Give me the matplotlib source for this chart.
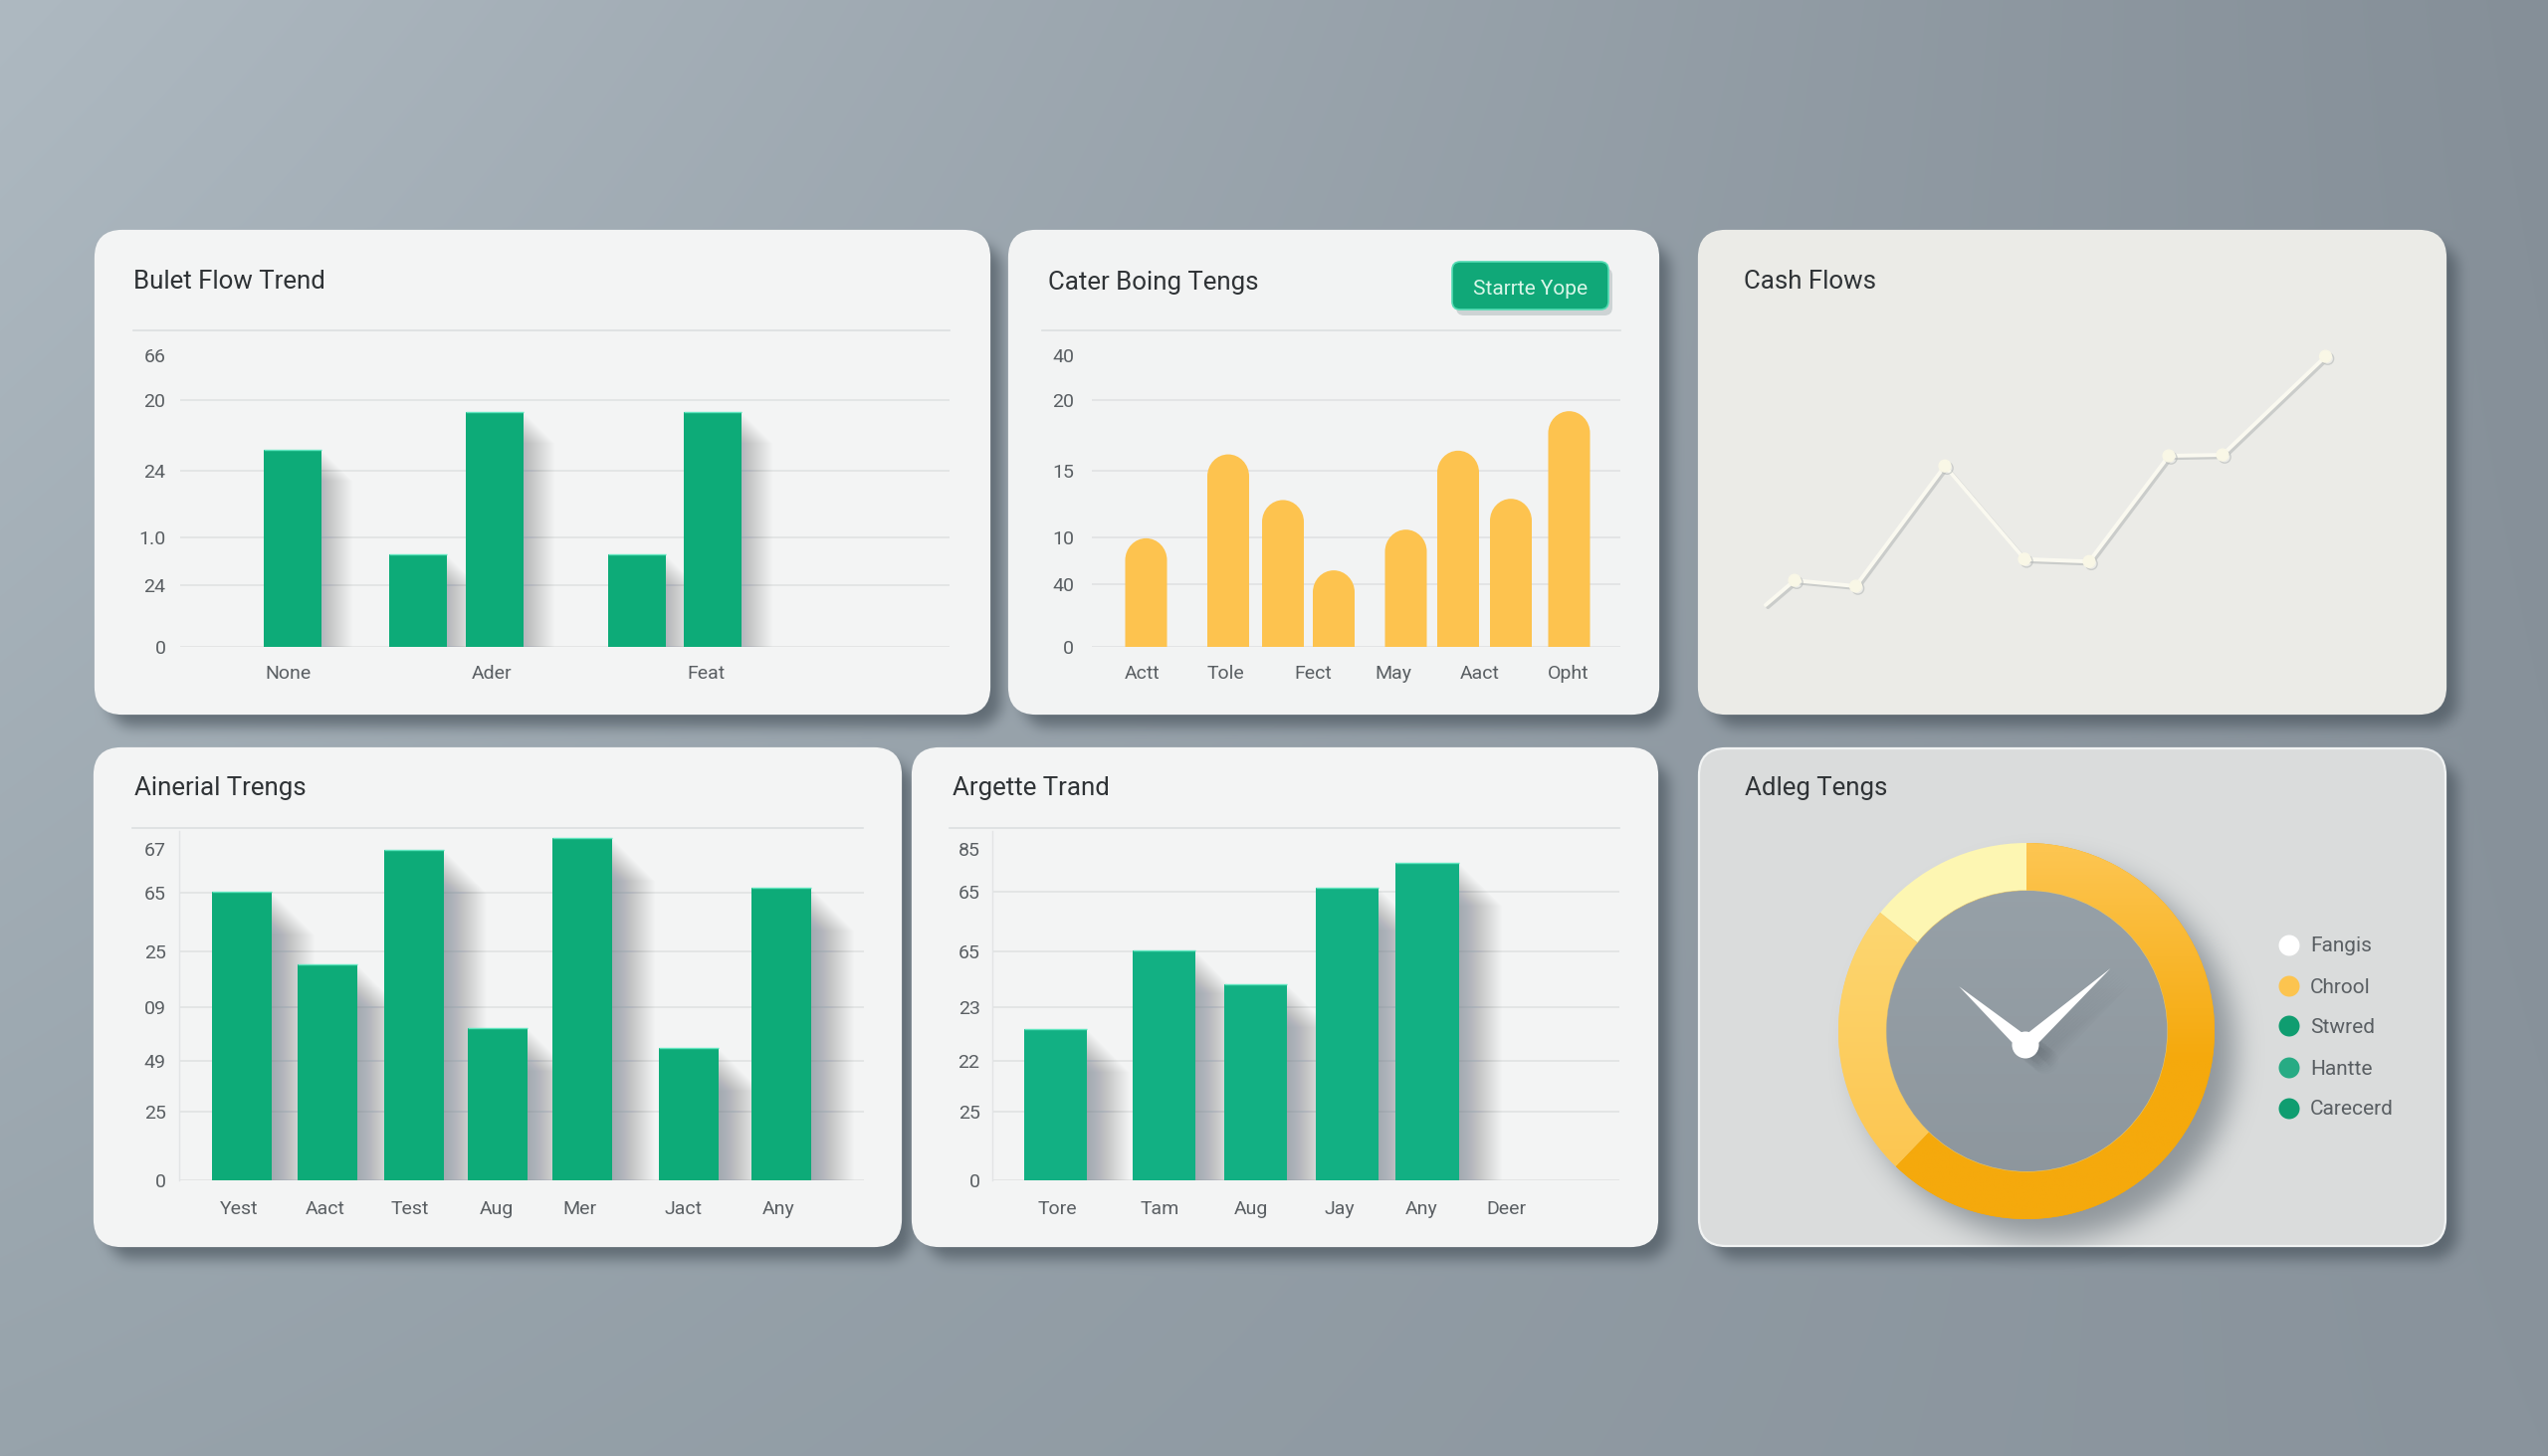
import numpy as np
import matplotlib
matplotlib.use("Agg")
import matplotlib.pyplot as plt
from matplotlib.patches import FancyBboxPatch, PathPatch, Circle, Polygon, Rectangle
from matplotlib.path import Path
from matplotlib import patheffects as pe
from matplotlib.colors import to_rgb

plt.rcParams['font.family'] = ['Roboto', 'DejaVu Sans']

W, H = 2560, 1463

# ---------- data ----------
panel1_title = "Bulet Flow Trend"
panel1_cats = ["None", "Ader", "Feat"]
panel1_values = [16.0, 7.5, 19.0, 7.5, 19.0]
panel1_ticks = [0, 5.0, 8.9, 14.3, 20, 23.6]
panel1_ticklabels = ["0", "24", "1.0", "24", "20", "66"]

panel2_title = "Cater Boing Tengs"
panel2_button = "Starrte Yope"
panel2_cats = ["Actt", "Tole", "Fect", "May", "Aact", "Opht"]
panel2_values = [8.8, 15.6, 11.9, 6.2, 9.5, 15.9, 12.0, 19.1]
panel2_ticks = [0, 5.1, 8.9, 14.3, 20, 23.6]
panel2_ticklabels = ["0", "40", "10", "15", "20", "40"]

panel3_title = "Cash Flows"
panel3_values = [22.5, 27.6, 26.4, 51.3, 32.0, 31.5, 53.4, 53.6, 74.0]

panel4_title = "Ainerial Trengs"
panel4_cats = ["Yest", "Aact", "Test", "Aug", "Mer", "Jact", "Any"]
panel4_values = [65.2, 48.8, 74.7, 34.4, 77.4, 29.9, 66.1]
panel4_ticks = [0, 15.5, 27, 39.1, 51.7, 65, 74.9]
panel4_ticklabels = ["0", "25", "49", "09", "25", "65", "67"]

panel5_title = "Argette Trand"
panel5_cats = ["Tore", "Tam", "Aug", "Jay", "Any", "Deer"]
panel5_values = [34.2, 52.0, 44.3, 66.1, 71.7]
panel5_ticks = [0, 15.5, 27, 39.1, 51.7, 65.2, 74.9]
panel5_ticklabels = ["0", "25", "22", "23", "65", "65", "85"]

panel6_title = "Adleg Tengs"
panel6_legend = ["Fangis", "Chrool", "Stwred", "Hantte", "Carecerd"]
panel6_shares = [51, 85, 224]
hand_angles = [138.6, 42.0]
hand_lengths = [89, 115]

# ---------- layout (pixels of the 2560x1463 canvas) ----------
cards = [(96, 232, 994, 717, '#f3f4f4', '#f3f4f4'),
         (1014, 232, 1666, 717, '#f2f3f3', '#f2f3f3'),
         (1707, 232, 2457, 717, '#ebebe7', '#ebebe7'),
         (95, 752, 905, 1252, '#f3f4f4', '#f3f4f4'),
         (917, 752, 1665, 1252, '#f3f4f4', '#f3f4f4'),
         (1707, 752, 2457, 1252, '#dadcdc', '#f1f3f3')]
RADIUS = 27

p1_centers = [294, 420, 497, 640, 716]; p1_width = 58
p1_label_x = [290, 494, 709]
p2_centers = [1151.5, 1234, 1289, 1340, 1412.5, 1465, 1518, 1576.5]; p2_width = 42
p2_label_x = [1148, 1231, 1319, 1400, 1487, 1576]
p3_x = [1774, 1803, 1864.5, 1954, 2034, 2099, 2179, 2233, 2336.5]
p4_centers = [242.5, 329, 415.5, 500, 584.5, 692, 785]; p4_width = 60
p4_label_x = [240, 327, 412, 499, 582, 687, 782]
p5_centers = [1060.5, 1169.5, 1261.5, 1353.5, 1434]; p5_width = 63.5
p5_label_x = [1062, 1165, 1257, 1346, 1428, 1513]

GREEN = '#0dab78'
GREEN2 = '#12b083'
AMBER = '#fdc34f'
GRID = '#e0e2e3'
TXT = '#5a5f63'
TITLE = '#2f3336'


def box_blur(a, r):
    for axis in (0, 1):
        for _ in range(3):
            pad = [(0, 0), (0, 0)]
            pad[axis] = (r + 1, r)
            c = np.cumsum(np.pad(a, pad, mode='edge'), axis=axis)
            if axis == 0:
                a = (c[2 * r + 1:, :] - c[:-2 * r - 1, :]) / (2 * r + 1)
            else:
                a = (c[:, 2 * r + 1:] - c[:, :-2 * r - 1]) / (2 * r + 1)
    return a


yy, xx = np.mgrid[0:H, 0:W].astype(float)


def rr_mask(x0, y0, x1, y1, r):
    cx, cy = (x0 + x1) / 2, (y0 + y1) / 2
    qx = np.abs(xx - cx) - ((x1 - x0) / 2 - r)
    qy = np.abs(yy - cy) - ((y1 - y0) / 2 - r)
    d = np.hypot(np.maximum(qx, 0), np.maximum(qy, 0)) + np.minimum(np.maximum(qx, qy), 0) - r
    return (d < 0).astype(float)


# background: cool grey, bilinear between four corners
TL, TR = np.array(to_rgb('#aeb9c1')), np.array(to_rgb('#858f98'))
BL, BR = np.array(to_rgb('#97a3ab')), np.array(to_rgb('#89939c'))
fx = np.clip(xx / W, 0, 1)[..., None]
fy = (yy / H)[..., None]
base = (TL * (1 - fx) + TR * fx) * (1 - fy) + (BL * (1 - fx) + BR * fx) * fy

# card shadows
sh = np.zeros((H, W))
for c in cards:
    sh = np.maximum(sh, rr_mask(c[0] + 12, c[1] + 12, c[2] + 12, c[3] + 13, RADIUS))
sh = box_blur(sh, 6)
dark = np.array(to_rgb('#48535c'))
for i in range(3):
    base[..., i] = base[..., i] * (1 - 0.68 * sh) + dark[i] * 0.68 * sh

fig = plt.figure(figsize=(W / 100, H / 100), dpi=100)
bg = fig.add_axes([0, 0, 1, 1], zorder=0)
bg.set_xlim(0, W); bg.set_ylim(H, 0); bg.axis('off')
bg.imshow(base, extent=(0, W, H, 0), aspect='auto', zorder=0, interpolation='bilinear')

for x0, y0, x1, y1, fc, ec in cards:
    bg.add_patch(FancyBboxPatch((x0, y0), x1 - x0, y1 - y0,
                                boxstyle=f"round,pad=0,rounding_size={RADIUS}",
                                fc=fc, ec=ec, lw=1.6, zorder=2))

# header rules
for x0, x1, y in [(134, 954, 332), (1047, 1628, 332), (133, 867, 832), (954, 1627, 832)]:
    bg.plot([x0, x1], [y, y], color='#dcdfe0', lw=1.2, zorder=3)

# titles
for txt, x, y in [(panel1_title, 134, 283.5), (panel2_title, 1053, 283.5), (panel3_title, 1752, 283.5),
                  (panel4_title, 135, 792.5), (panel5_title, 957, 792.5), (panel6_title, 1753, 792.5)]:
    bg.text(x, y, txt, fontsize=18.6, color=TITLE, va='center', ha='left', zorder=4)

# button
bx0, by0, bx1, by1 = 1459, 263, 1616, 311
bg.add_patch(FancyBboxPatch((bx0 + 4, by0 + 6), bx1 - bx0, by1 - by0,
                            boxstyle="round,pad=0,rounding_size=8", fc='#aab4b6', ec='none', alpha=.5, zorder=3))
bg.add_patch(FancyBboxPatch((bx0, by0), bx1 - bx0, by1 - by0,
                            boxstyle="round,pad=0,rounding_size=8", fc='#10a878', ec='#53dcb4', lw=1.2, zorder=4))
bg.text((bx0 + bx1) / 2, (by0 + by1) / 2 + 3, panel2_button, fontsize=15, color='#d9f6e8',
        ha='center', va='center', zorder=5)


def make_axes(x0, y0, x1, y1):
    ax = fig.add_axes([x0 / W, 1 - y1 / H, (x1 - x0) / W, (y1 - y0) / H], zorder=2)
    ax.patch.set_alpha(0)
    ax.set_xlim(x0, x1)
    return ax


def style(ax, ticks, labels, cat_x, cats, ypad, xpad, left_spine=False):
    ax.set_yticks(ticks); ax.set_yticklabels(labels)
    ax.set_xticks(cat_x); ax.set_xticklabels(cats)
    ax.tick_params(axis='both', length=0, labelsize=14, labelcolor=TXT)
    ax.tick_params(axis='y', pad=ypad)
    ax.tick_params(axis='x', pad=xpad)
    for s in ax.spines.values():
        s.set_visible(False)
    if left_spine:
        ax.spines['left'].set_visible(True)
        ax.spines['left'].set_color('#e2e4e5')
        ax.spines['left'].set_linewidth(1.0)
    ax.set_axisbelow(True)
    ax.yaxis.grid(True, color=GRID, lw=1.2)
    ax.xaxis.grid(False)
    ax.yaxis.get_gridlines()[-1].set_visible(False)


def bar_shadow(ax, centers, width, values, per_px, reach=34, alpha=0.011):
    for k in range(1, reach):
        h = [max(v - k * per_px, 0) for v in values]
        ax.bar([c + k for c in centers], h, width=width, color='#566270', alpha=alpha,
               linewidth=0, zorder=1.5)


def flat_panel(rect, centers, width, values, color, ticks, labels, cat_x, cats, per_px, ypad, xpad, spine, reach):
    ax = make_axes(*rect)
    ax.set_ylim(0, (rect[3] - rect[1]) * per_px)
    style(ax, ticks, labels, cat_x, cats, ypad, xpad, spine)
    bar_shadow(ax, centers, width, values, per_px, reach=reach)
    ax.bar(centers, values, width=width, color=color, linewidth=0, zorder=3)
    ax.hlines(values, [c - width / 2 for c in centers], [c + width / 2 for c in centers],
              color='#5fe6bf', lw=1.0, zorder=3.5)
    return ax


# panel 1
flat_panel((181, 345, 954, 650), p1_centers, p1_width, panel1_values, GREEN,
           panel1_ticks, panel1_ticklabels, p1_label_x, panel1_cats, 20 / 248, 10.5, 13, False, 32)

# panel 2: bars with rounded heads
per2 = 20 / 248
ax2 = make_axes(1097, 345, 1628, 650)
ax2.set_ylim(0, 305 * per2)
style(ax2, panel2_ticks, panel2_ticklabels, p2_label_x, panel2_cats, 13, 13)
for c, v in zip(p2_centers, panel2_values):
    r = p2_width / 2
    ry = r * per2 * 1.05
    k = 0.5523
    verts = [(c - r, 0), (c - r, v - ry), (c - r, v - ry + k * ry), (c - k * r, v), (c, v),
             (c + k * r, v), (c + r, v - ry + k * ry), (c + r, v - ry), (c + r, 0), (c - r, 0)]
    codes = [Path.MOVETO, Path.LINETO, Path.CURVE4, Path.CURVE4, Path.CURVE4,
             Path.CURVE4, Path.CURVE4, Path.CURVE4, Path.LINETO, Path.CLOSEPOLY]
    ax2.add_patch(PathPatch(Path(verts, codes), fc=AMBER, ec='none', zorder=3))

# panel 3: line (no marker on the first point)
ax3 = make_axes(1707, 232, 2457, 717)
ax3.set_ylim(0, 100)
ax3.axis('off')
ax3.plot(p3_x, panel3_values, color='#faf9f0', lw=2.8, marker='o', ms=8.5, mfc='#f9f7e6', mec='#f9f7e6',
         markevery=list(range(1, len(p3_x))), solid_capstyle='round', zorder=3,
         path_effects=[pe.SimpleLineShadow(offset=(1.6, -1.6), shadow_color='#b4b8b8', alpha=0.6), pe.Normal()])

# panels 4 and 5
per4 = 65 / 289
flat_panel((180, 835, 868, 1186), p4_centers, p4_width, panel4_values, GREEN,
           panel4_ticks, panel4_ticklabels, p4_label_x, panel4_cats, per4, 9.5, 14.5, True, 44)
flat_panel((997, 835, 1627, 1186), p5_centers, p5_width, panel5_values, GREEN2,
           panel5_ticks, panel5_ticklabels, p5_label_x, panel5_cats, per4, 9, 14.5, True, 44)

# panel 6: ring + dial
R = 189.0
CX, CY = 2036, 1036
disc = (np.hypot(xx - CX - 20, yy - CY - 20) < R).astype(float)
disc = box_blur(disc, 13)
shadow = np.zeros((H, W, 4))
shadow[..., :3] = to_rgb('#5f6971')
shadow[..., 3] = disc * 0.6
bg.imshow(shadow, extent=(0, W, H, 0), aspect='auto', zorder=2.5)
bg.set_xlim(0, W); bg.set_ylim(H, 0)

ax6 = fig.add_axes([(CX - R) / W, 1 - (CY + R) / H, 2 * R / W, 2 * R / H], zorder=3)
ax6.patch.set_alpha(0)
wedges, _ = ax6.pie(panel6_shares, startangle=90, counterclock=True, radius=1,
                    colors=['#fdf6b2', '#fdcf63', '#f5a90c'],
                    wedgeprops=dict(width=(R - 141) / R, linewidth=0))
ax6.set_xlim(-1, 1); ax6.set_ylim(-1, 1); ax6.axis('off')

gy, gx = np.mgrid[1:-1:200j, -1:1:200j]


def grad(col_a, col_b, t):
    a, b = np.array(to_rgb(col_a)), np.array(to_rgb(col_b))
    return a + (b - a) * t[..., None]


t_orange = np.clip((gy + 0.15) / 1.1, 0, 1)
im = ax6.imshow(grad('#f5a90c', '#fdc550', t_orange), extent=(-1, 1, -1, 1), zorder=2, aspect='auto')
im.set_clip_path(wedges[2])
t_light = np.clip((gy + 0.8) / 1.4, 0, 1)
im = ax6.imshow(grad('#fcc54f', '#fdd670', t_light), extent=(-1, 1, -1, 1), zorder=2, aspect='auto')
im.set_clip_path(wedges[1])

face = Circle((0.002, 0), (R - 48) / R, fc='#919ba2', ec='#e6c56c', lw=0.8, zorder=3)
ax6.add_patch(face)
t_face = np.clip((gy + 1) / 2, 0, 1)
im = ax6.imshow(grad('#8c959c', '#98a2a9', t_face), extent=(-1, 1, -1, 1), zorder=3.1, aspect='auto')
im.set_clip_path(face)

hub = np.array([-1.0, -14.0]) / R
# hand shadow: soft stack of offset copies
for s in range(2, 22, 2):
    off = (s / R, -s * 0.8 / R)
    for ang, ln in zip(hand_angles, hand_lengths):
        a = np.deg2rad(ang)
        u = np.array([np.cos(a), np.sin(a)])
        n = np.array([-u[1], u[0]])
        pts = np.array([hub + u * ln / R, hub + n * 8 / R, hub - n * 8 / R]) + off
        ax6.add_patch(Polygon(pts, closed=True, fc='#6a737a', ec='none', alpha=0.05, zorder=3.3))
    ax6.add_patch(Circle(hub + off, 13 / R, fc='#6a737a', ec='none', alpha=0.05, zorder=3.3))
for ang, ln in zip(hand_angles, hand_lengths):
    a = np.deg2rad(ang)
    u = np.array([np.cos(a), np.sin(a)])
    n = np.array([-u[1], u[0]])
    pts = [hub + u * ln / R, hub + n * 8 / R, hub - n * 8 / R]
    ax6.add_patch(Polygon(pts, closed=True, fc='white', ec='none', zorder=3.5))
ax6.add_patch(Circle(hub, 13.5 / R, fc='white', ec='none', zorder=3.5))
ax6.set_xlim(-1, 1); ax6.set_ylim(-1, 1)

# legend
legend_y = [950, 991, 1031, 1073, 1114]
legend_colors = ['#ffffff', '#fcc44f', '#0f9d70', '#27ab84', '#0f9d70']
for y, col, name in zip(legend_y, legend_colors, panel6_legend):
    bg.add_patch(Circle((2300, y), 10.5, fc=col, ec='none', zorder=4))
    bg.text(2321, y + 1, name, fontsize=15, color=TXT, va='center', ha='left', zorder=4)

fig.savefig('out.png', dpi=100)
